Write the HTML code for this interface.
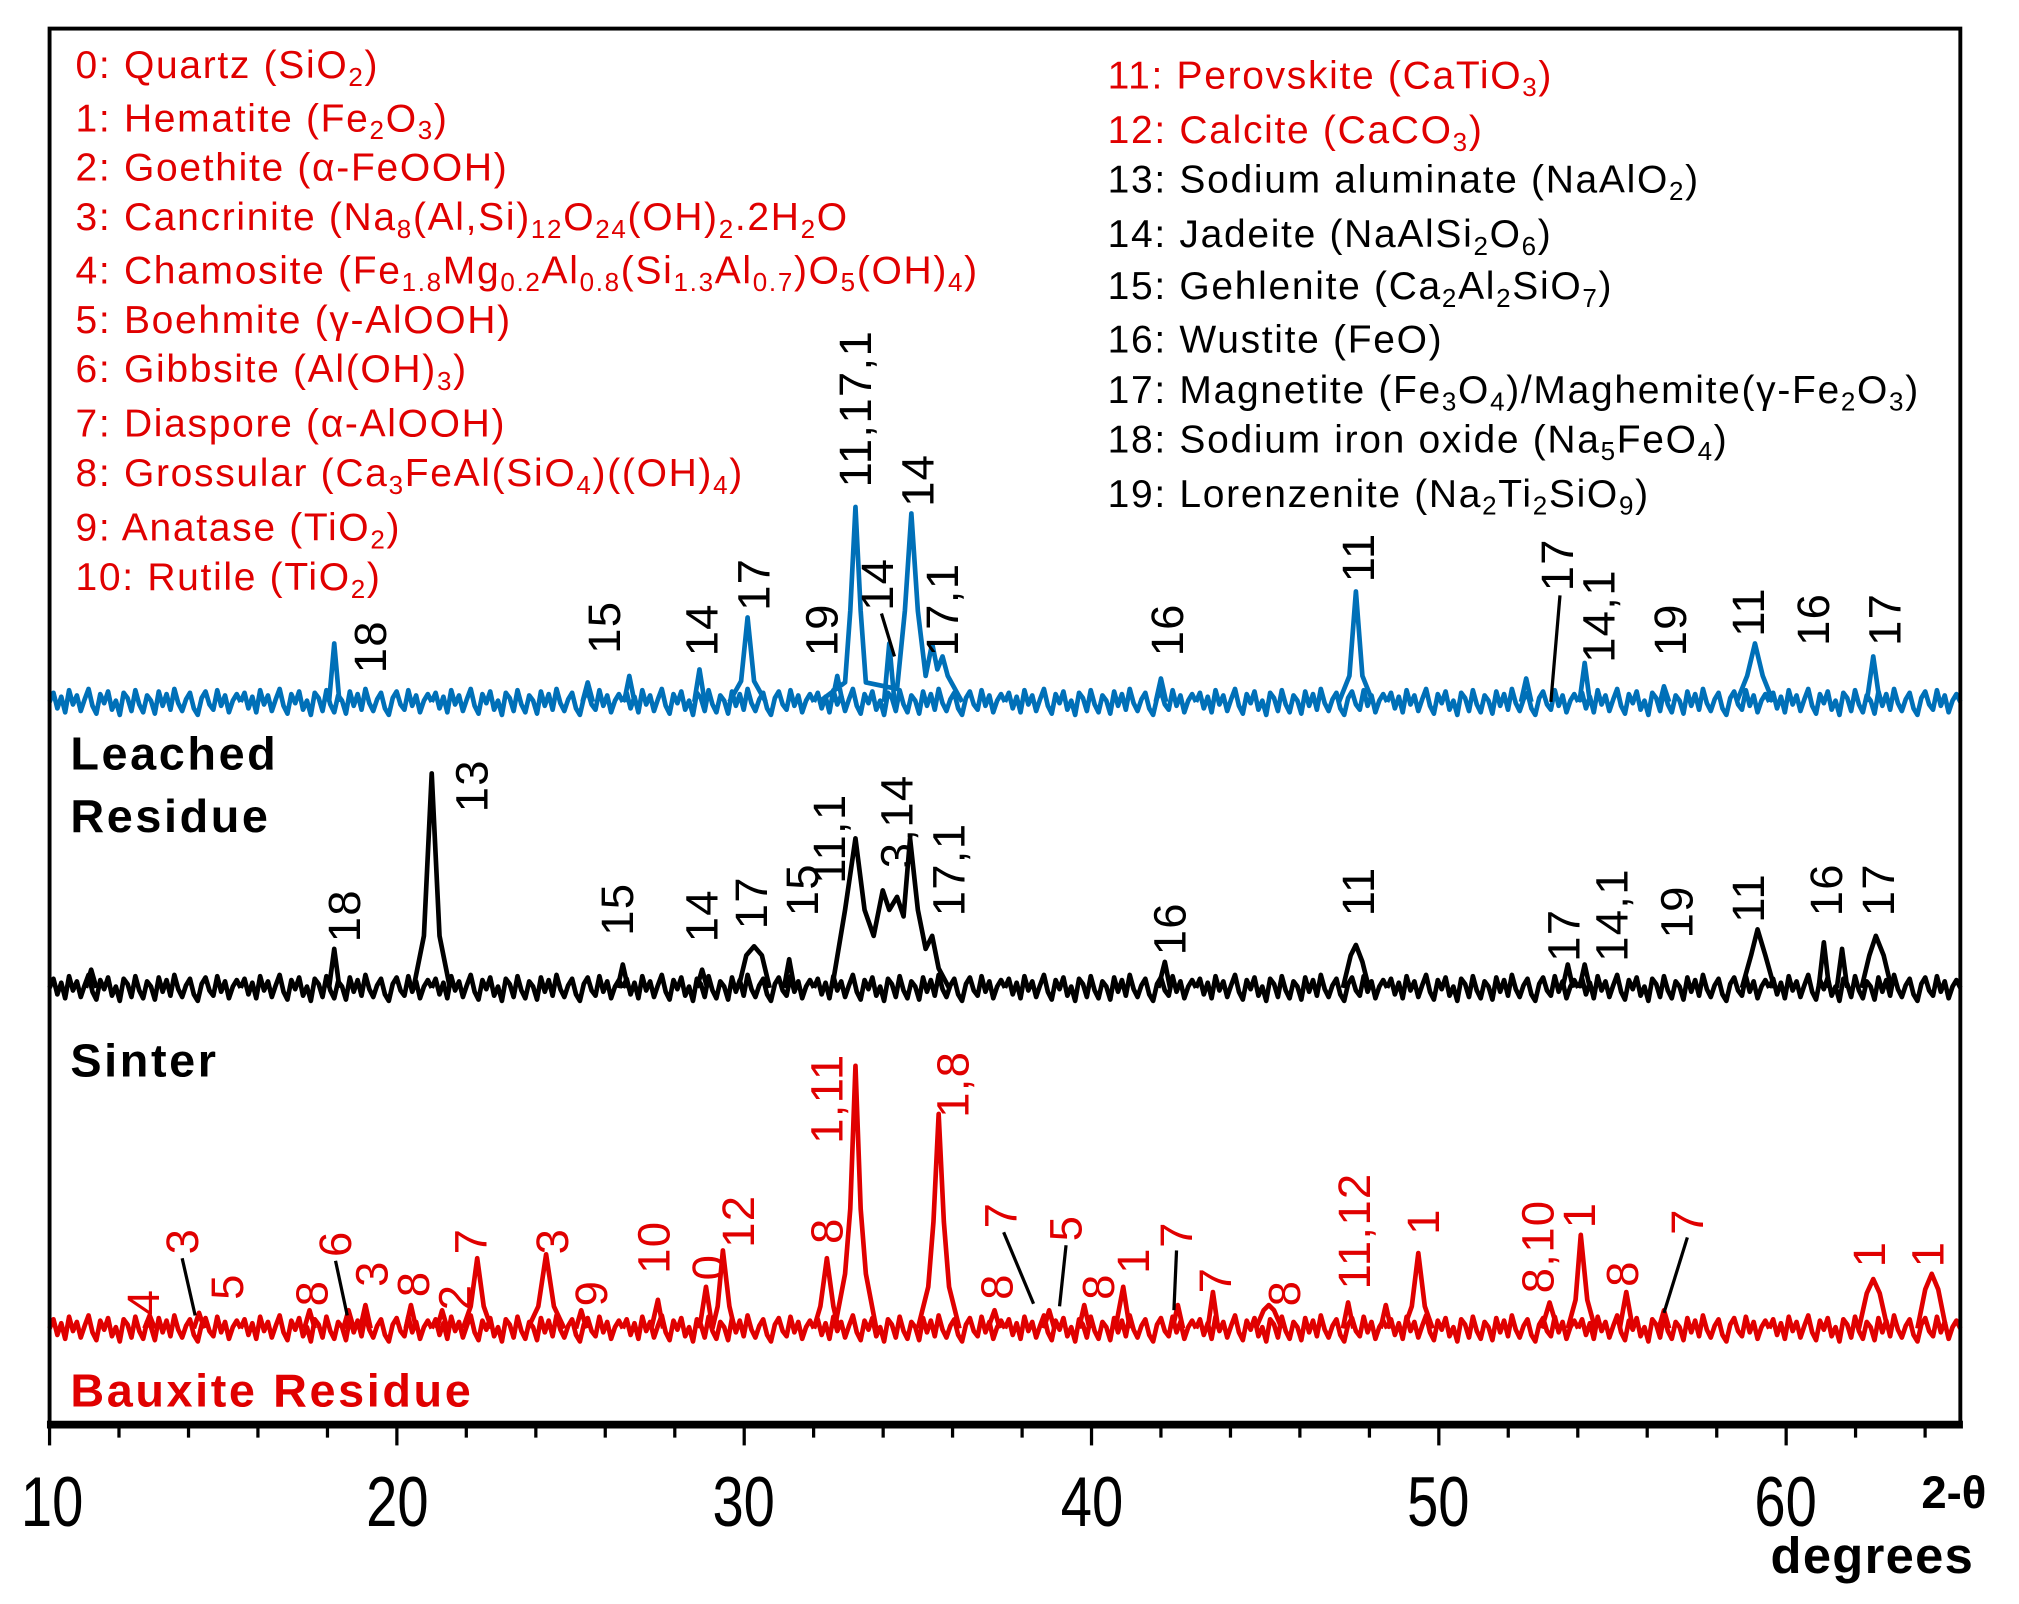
<!DOCTYPE html>
<html><head><meta charset="utf-8"><style>
html,body{margin:0;padding:0;background:#fff;}
svg{display:block;}
text{font-family:"Liberation Sans",sans-serif;}
.lg{font-size:30px;letter-spacing:1.3px;}
.pk{font-size:35px;letter-spacing:1px;}
</style></head><body>
<svg width="2019" height="1604" viewBox="0 0 1553 1234" xmlns="http://www.w3.org/2000/svg" xmlns:xlink="http://www.w3.org/1999/xlink">
<defs>
<path id="nz" fill="none" d="M0,0 L3,-7 L6,5 L9,-4 L12,8 L15,-9 L18,2 L21,-5 L24,7 L27,-2 L30,-10 L33,3 L36,9 L39,-6 L42,1 L45,-8 L48,6 L51,-1 L54,10 L57,-7 L60,-3 L63,7 L66,-9 L69,2 L72,8 L75,-5 L78,-1 L81,9 L84,-8 L87,3 L90,-6 L93,6 L96,-10 L99,1 L102,7 L105,-2 L108,-7 L111,5 L114,10 L117,-3 L120,-8 L123,2 L126,6 L129,-9 L132,3 L135,-5 L138,8 L141,-1 L144,-6 L147,0"/>
</defs>
<rect x="0" y="0" width="1553" height="1234" fill="#fff"/>
<g fill="none" stroke-width="3.6" stroke-linejoin="round">
<g stroke="#0070b8">
<use xlink:href="#nz" x="38" y="540"/><use xlink:href="#nz" x="185" y="540"/><use xlink:href="#nz" x="332" y="540"/><use xlink:href="#nz" x="479" y="540"/><use xlink:href="#nz" x="626" y="540"/><use xlink:href="#nz" x="773" y="540"/><use xlink:href="#nz" x="920" y="540"/><use xlink:href="#nz" x="1067" y="540"/><use xlink:href="#nz" x="1214" y="540"/><use xlink:href="#nz" x="1361" y="540"/>
<path d="M253,540 L257,495 L261,540 M448,540 L452,525 L456,540 M480,540 L484,520 L488,540 M534,540 L538,515 L542,540 M561,540 L570,524 L575,475 L580,524 L589,540 M640,540 L644,520 L648,540 M630,540 L650,525 L654,470 L658,390 L662,470 L666,525 L690,530 L696,470 L701,395 L706,470 L712,520 L717,495 L721,515 L725,505 L729,520 L740,540 M680,540 L684,495 L688,540 M889,540 L893,522 L897,540 M1030,540 L1038,520 L1043,455 L1048,520 L1056,540 M1170,540 L1174,522 L1178,540 M1215,540 L1219,510 L1223,540 M1277,540 L1280,528 L1284,540 M1336,540 L1344,520 L1350,495 L1356,520 L1364,540 M1436,540 L1441,505 L1446,540"/>
</g>
<g stroke="#000">
<use xlink:href="#nz" x="38" y="760"/><use xlink:href="#nz" x="185" y="760"/><use xlink:href="#nz" x="332" y="760"/><use xlink:href="#nz" x="479" y="760"/><use xlink:href="#nz" x="626" y="760"/><use xlink:href="#nz" x="773" y="760"/><use xlink:href="#nz" x="920" y="760"/><use xlink:href="#nz" x="1067" y="760"/><use xlink:href="#nz" x="1214" y="760"/><use xlink:href="#nz" x="1361" y="760"/>
<path d="M66,760 L70,746 L74,760 M253,760 L257,730 L261,760 M318,760 L326,720 L332,595 L338,720 L346,760 M475,760 L479,742 L483,760 M536,760 L540,746 L544,760 M568,760 L574,735 L580,728 L586,735 L592,760 M603,760 L607,738 L611,760 M640,760 L650,700 L658,645 L665,700 L672,720 L679,685 L684,700 L690,690 L695,705 L700,645 L706,700 L712,730 L717,720 L722,745 L730,760 M891,760 L896,740 L900,760 M1033,760 L1039,735 L1043,727 L1048,740 L1053,760 M1202,760 L1206,742 L1210,760 M1215,760 L1219,742 L1223,760 M1340,760 L1347,735 L1352,715 L1358,735 L1365,760 M1399,760 L1403,725 L1407,760 M1413,760 L1417,730 L1421,760 M1432,760 L1438,735 L1443,720 L1449,735 L1455,760"/>
</g>
<g stroke="#e00000">
<use xlink:href="#nz" x="38" y="1022"/><use xlink:href="#nz" x="185" y="1022"/><use xlink:href="#nz" x="332" y="1022"/><use xlink:href="#nz" x="479" y="1022"/><use xlink:href="#nz" x="626" y="1022"/><use xlink:href="#nz" x="773" y="1022"/><use xlink:href="#nz" x="920" y="1022"/><use xlink:href="#nz" x="1067" y="1022"/><use xlink:href="#nz" x="1214" y="1022"/><use xlink:href="#nz" x="1361" y="1022"/>
<path d="M111,1022 L115,1012 L119,1022 M149,1022 L153,1010 L157,1022 M234,1022 L238,1008 L242,1022 M264,1022 L268,1008 L272,1022 M277,1022 L281,1004 L285,1022 M312,1022 L316,1004 L320,1022 M336,1022 L340,1008 L344,1022 M356,1022 L362,1005 L367,968 L372,1005 L378,1022 M406,1022 L414,1005 L420,965 L426,1005 L434,1022 M443,1022 L447,1008 L451,1022 M501,1022 L506,1000 L510,1022 M538,1022 L543,990 L548,1022 M548,1022 L552,1005 L556,962 L561,1005 L565,1022 M626,1022 L631,1005 L636,968 L641,1005 L645,1022 M642,1022 L650,980 L654,930 L658,820 L662,930 L666,980 L674,1022 M706,1022 L714,990 L718,940 L722,857 L726,940 L730,990 L738,1022 M760,1022 L765,1008 L769,1022 M803,1022 L807,1008 L811,1022 M830,1022 L834,1004 L838,1022 M858,1022 L864,990 L869,1022 M902,1022 L906,1004 L910,1022 M929,1022 L933,994 L937,1022 M966,1022 L972,1008 L976,1004 L980,1008 L986,1022 M1033,1022 L1037,1002 L1041,1022 M1062,1022 L1066,1004 L1070,1022 M1080,1022 L1086,1005 L1091,964 L1096,1005 L1102,1022 M1186,1022 L1192,1002 L1198,1022 M1206,1022 L1212,1000 L1216,950 L1221,1000 L1227,1022 M1246,1022 L1251,994 L1256,1022 M1276,1022 L1280,1008 L1284,1022 M1430,1022 L1436,995 L1441,984 L1446,995 L1452,1022 M1475,1022 L1481,992 L1486,980 L1491,992 L1497,1022"/>
</g>
</g>
<rect x="38" y="22" width="1470" height="1073" fill="none" stroke="#000" stroke-width="3"/>
<line x1="36" y1="1096" x2="1510" y2="1096" stroke="#000" stroke-width="6"/>
<g stroke="#000" stroke-width="2.5">
<line x1="38" y1="1096" x2="38" y2="1112"/><line x1="91.4" y1="1096" x2="91.4" y2="1106"/><line x1="144.9" y1="1096" x2="144.9" y2="1106"/><line x1="198.3" y1="1096" x2="198.3" y2="1106"/><line x1="251.8" y1="1096" x2="251.8" y2="1106"/>
<line x1="305.2" y1="1096" x2="305.2" y2="1112"/><line x1="358.6" y1="1096" x2="358.6" y2="1106"/><line x1="412.1" y1="1096" x2="412.1" y2="1106"/><line x1="465.5" y1="1096" x2="465.5" y2="1106"/><line x1="519" y1="1096" x2="519" y2="1106"/>
<line x1="572.4" y1="1096" x2="572.4" y2="1112"/><line x1="625.8" y1="1096" x2="625.8" y2="1106"/><line x1="679.3" y1="1096" x2="679.3" y2="1106"/><line x1="732.7" y1="1096" x2="732.7" y2="1106"/><line x1="786.2" y1="1096" x2="786.2" y2="1106"/>
<line x1="839.6" y1="1096" x2="839.6" y2="1112"/><line x1="893" y1="1096" x2="893" y2="1106"/><line x1="946.5" y1="1096" x2="946.5" y2="1106"/><line x1="999.9" y1="1096" x2="999.9" y2="1106"/><line x1="1053.4" y1="1096" x2="1053.4" y2="1106"/>
<line x1="1106.8" y1="1096" x2="1106.8" y2="1112"/><line x1="1160.2" y1="1096" x2="1160.2" y2="1106"/><line x1="1213.7" y1="1096" x2="1213.7" y2="1106"/><line x1="1267.1" y1="1096" x2="1267.1" y2="1106"/><line x1="1320.6" y1="1096" x2="1320.6" y2="1106"/>
<line x1="1374" y1="1096" x2="1374" y2="1112"/><line x1="1427.4" y1="1096" x2="1427.4" y2="1106"/><line x1="1480.9" y1="1096" x2="1480.9" y2="1106"/>
</g>
<g font-size="54" text-anchor="middle" fill="#000" transform="scale(0.8,1)">
<text x="50" y="1174">10</text><text x="382" y="1174">20</text><text x="715" y="1174">30</text>
<text x="1050" y="1174">40</text><text x="1383" y="1174">50</text><text x="1717" y="1174">60</text>
</g>
<text x="1478" y="1160" font-size="35" font-weight="bold">2-θ</text>
<text x="1362" y="1210" font-size="39" font-weight="bold" letter-spacing="1">degrees</text>
<g class="lg" fill="#e00000">
<text x="58" y="60">0: Quartz (SiO<tspan font-size="20" dy="6">2</tspan><tspan dy="-6">)</tspan></text>
<text x="58" y="101">1: Hematite  (Fe<tspan font-size="20" dy="6">2</tspan><tspan dy="-6">O</tspan><tspan font-size="20" dy="6">3</tspan><tspan dy="-6">)</tspan></text>
<text x="58" y="139">2: Goethite (α-FeOOH)</text>
<text x="58" y="177">3: Cancrinite (Na<tspan font-size="20" dy="6">8</tspan><tspan dy="-6">(Al,Si)</tspan><tspan font-size="20" dy="6">12</tspan><tspan dy="-6">O</tspan><tspan font-size="20" dy="6">24</tspan><tspan dy="-6">(OH)</tspan><tspan font-size="20" dy="6">2</tspan><tspan dy="-6">.2H</tspan><tspan font-size="20" dy="6">2</tspan><tspan dy="-6">O</tspan></text>
<text x="58" y="218">4: Chamosite (Fe<tspan font-size="20" dy="6">1.8</tspan><tspan dy="-6">Mg</tspan><tspan font-size="20" dy="6">0.2</tspan><tspan dy="-6">Al</tspan><tspan font-size="20" dy="6">0.8</tspan><tspan dy="-6">(Si</tspan><tspan font-size="20" dy="6">1.3</tspan><tspan dy="-6">Al</tspan><tspan font-size="20" dy="6">0.7</tspan><tspan dy="-6">)O</tspan><tspan font-size="20" dy="6">5</tspan><tspan dy="-6">(OH)</tspan><tspan font-size="20" dy="6">4</tspan><tspan dy="-6">)</tspan></text>
<text x="58" y="256">5: Boehmite  (γ-AlOOH)</text>
<text x="58" y="294">6: Gibbsite (Al(OH)<tspan font-size="20" dy="6">3</tspan><tspan dy="-6">)</tspan></text>
<text x="58" y="336">7: Diaspore (α-AlOOH)</text>
<text x="58" y="374">8: Grossular (Ca<tspan font-size="20" dy="6">3</tspan><tspan dy="-6">FeAl(SiO</tspan><tspan font-size="20" dy="6">4</tspan><tspan dy="-6">)((OH)</tspan><tspan font-size="20" dy="6">4</tspan><tspan dy="-6">)</tspan></text>
<text x="58" y="416">9: Anatase (TiO<tspan font-size="20" dy="6">2</tspan><tspan dy="-6">)</tspan></text>
<text x="58" y="454">10: Rutile  (TiO<tspan font-size="20" dy="6">2</tspan><tspan dy="-6">)</tspan></text>
</g>
<g class="lg">
<text x="852" y="68" fill="#e00000">11: Perovskite (CaTiO<tspan font-size="20" dy="6">3</tspan><tspan dy="-6">)</tspan></text>
<text x="852" y="110" fill="#e00000">12: Calcite (CaCO<tspan font-size="20" dy="6">3</tspan><tspan dy="-6">)</tspan></text>
<text x="852" y="148">13: Sodium aluminate (NaAlO<tspan font-size="20" dy="6">2</tspan><tspan dy="-6">)</tspan></text>
<text x="852" y="190">14: Jadeite (NaAlSi<tspan font-size="20" dy="6">2</tspan><tspan dy="-6">O</tspan><tspan font-size="20" dy="6">6</tspan><tspan dy="-6">)</tspan></text>
<text x="852" y="230">15: Gehlenite (Ca<tspan font-size="20" dy="6">2</tspan><tspan dy="-6">Al</tspan><tspan font-size="20" dy="6">2</tspan><tspan dy="-6">SiO</tspan><tspan font-size="20" dy="6">7</tspan><tspan dy="-6">)</tspan></text>
<text x="852" y="271">16: Wustite (FeO)</text>
<text x="852" y="310">17: Magnetite (Fe<tspan font-size="20" dy="6">3</tspan><tspan dy="-6">O</tspan><tspan font-size="20" dy="6">4</tspan><tspan dy="-6">)/Maghemite(γ-Fe</tspan><tspan font-size="20" dy="6">2</tspan><tspan dy="-6">O</tspan><tspan font-size="20" dy="6">3</tspan><tspan dy="-6">)</tspan></text>
<text x="852" y="348">18: Sodium iron oxide (Na<tspan font-size="20" dy="6">5</tspan><tspan dy="-6">FeO</tspan><tspan font-size="20" dy="6">4</tspan><tspan dy="-6">)</tspan></text>
<text x="852" y="390">19: Lorenzenite (Na<tspan font-size="20" dy="6">2</tspan><tspan dy="-6">Ti</tspan><tspan font-size="20" dy="6">2</tspan><tspan dy="-6">SiO</tspan><tspan font-size="20" dy="6">9</tspan><tspan dy="-6">)</tspan></text>
</g>
<g font-size="36" font-weight="bold" letter-spacing="2">
<text x="54" y="592">Leached</text><text x="54" y="640">Residue</text>
<text x="54" y="828">Sinter</text>
<text x="54" y="1082" fill="#e00000">Bauxite Residue</text>
</g>
<g class="pk" fill="#000">
<text transform="translate(297,518) rotate(-90)">18</text>
<text transform="translate(477,503) rotate(-90)">15</text>
<text transform="translate(552,505) rotate(-90)">14</text>
<text transform="translate(592,470) rotate(-90)">17</text>
<text transform="translate(644,505) rotate(-90)">19</text>
<text transform="translate(670,375) rotate(-90)">11,17,1</text>
<text transform="translate(687,470) rotate(-90)">14</text>
<text transform="translate(718,390) rotate(-90)">14</text>
<text transform="translate(737,505) rotate(-90)">17,1</text>
<text transform="translate(910,505) rotate(-90)">16</text>
<text transform="translate(1057,448) rotate(-90)">11</text>
<text transform="translate(1210,455) rotate(-90)">17</text>
<text transform="translate(1242,510) rotate(-90)">14,1</text>
<text transform="translate(1297,505) rotate(-90)">19</text>
<text transform="translate(1357,490) rotate(-90)">11</text>
<text transform="translate(1407,497) rotate(-90)">16</text>
<text transform="translate(1462,497) rotate(-90)">17</text>
<text transform="translate(277,725) rotate(-90)">18</text>
<text transform="translate(375,625) rotate(-90)">13</text>
<text transform="translate(487,720) rotate(-90)">15</text>
<text transform="translate(552,725) rotate(-90)">14</text>
<text transform="translate(590,715) rotate(-90)">17</text>
<text transform="translate(629,705) rotate(-90)">15</text>
<text transform="translate(650,680) rotate(-90)">11,1</text>
<text transform="translate(702,668) rotate(-90)">3,14</text>
<text transform="translate(742,705) rotate(-90)">17,1</text>
<text transform="translate(912,735) rotate(-90)">16</text>
<text transform="translate(1057,705) rotate(-90)">11</text>
<text transform="translate(1215,740) rotate(-90)">17</text>
<text transform="translate(1252,740) rotate(-90)">14,1</text>
<text transform="translate(1302,722) rotate(-90)">19</text>
<text transform="translate(1357,710) rotate(-90)">11</text>
<text transform="translate(1417,705) rotate(-90)">16</text>
<text transform="translate(1457,705) rotate(-90)">17</text>
</g>
<g class="pk" fill="#e00000">
<text transform="translate(122,1012) rotate(-90)">4</text>
<text transform="translate(152,965) rotate(-90)">3</text>
<text transform="translate(187,1000) rotate(-90)">5</text>
<text transform="translate(252,1005) rotate(-90)">8</text>
<text transform="translate(270,967) rotate(-90)">6</text>
<text transform="translate(298,990) rotate(-90)">3</text>
<text transform="translate(330,998) rotate(-90)">8</text>
<text transform="translate(362,1008) rotate(-90)">2</text>
<text transform="translate(374,965) rotate(-90)">7</text>
<text transform="translate(437,965) rotate(-90)">3</text>
<text transform="translate(467,1005) rotate(-90)">9</text>
<text transform="translate(515,980) rotate(-90)">10</text>
<text transform="translate(557,985) rotate(-90)">0</text>
<text transform="translate(580,960) rotate(-90)">12</text>
<text transform="translate(648,957) rotate(-90)">8</text>
<text transform="translate(648,880) rotate(-90)">1,11</text>
<text transform="translate(745,860) rotate(-90)">1,8</text>
<text transform="translate(782,945) rotate(-90)">7</text>
<text transform="translate(779,1000) rotate(-90)">8</text>
<text transform="translate(832,955) rotate(-90)">5</text>
<text transform="translate(857,1000) rotate(-90)">8</text>
<text transform="translate(884,980) rotate(-90)">1</text>
<text transform="translate(917,960) rotate(-90)">7</text>
<text transform="translate(947,995) rotate(-90)">7</text>
<text transform="translate(1000,1005) rotate(-90)">8</text>
<text transform="translate(1054,992) rotate(-90)">11,12</text>
<text transform="translate(1107,950) rotate(-90)">1</text>
<text transform="translate(1195,995) rotate(-90)">8,10</text>
<text transform="translate(1227,945) rotate(-90)">1</text>
<text transform="translate(1260,990) rotate(-90)">8</text>
<text transform="translate(1310,950) rotate(-90)">7</text>
<text transform="translate(1450,975) rotate(-90)">1</text>
<text transform="translate(1495,975) rotate(-90)">1</text>
</g>
<g stroke="#000" stroke-width="2.5">
<line x1="678" y1="472" x2="688" y2="505"/>
<line x1="1200" y1="458" x2="1193" y2="540"/>
<line x1="140" y1="968" x2="150" y2="1012"/>
<line x1="258" y1="970" x2="267" y2="1012"/>
<line x1="772" y1="948" x2="795" y2="1003"/>
<line x1="820" y1="958" x2="815" y2="1005"/>
<line x1="905" y1="962" x2="903" y2="1008"/>
<line x1="1298" y1="952" x2="1280" y2="1010"/>
</g>
</svg>
</body></html>
